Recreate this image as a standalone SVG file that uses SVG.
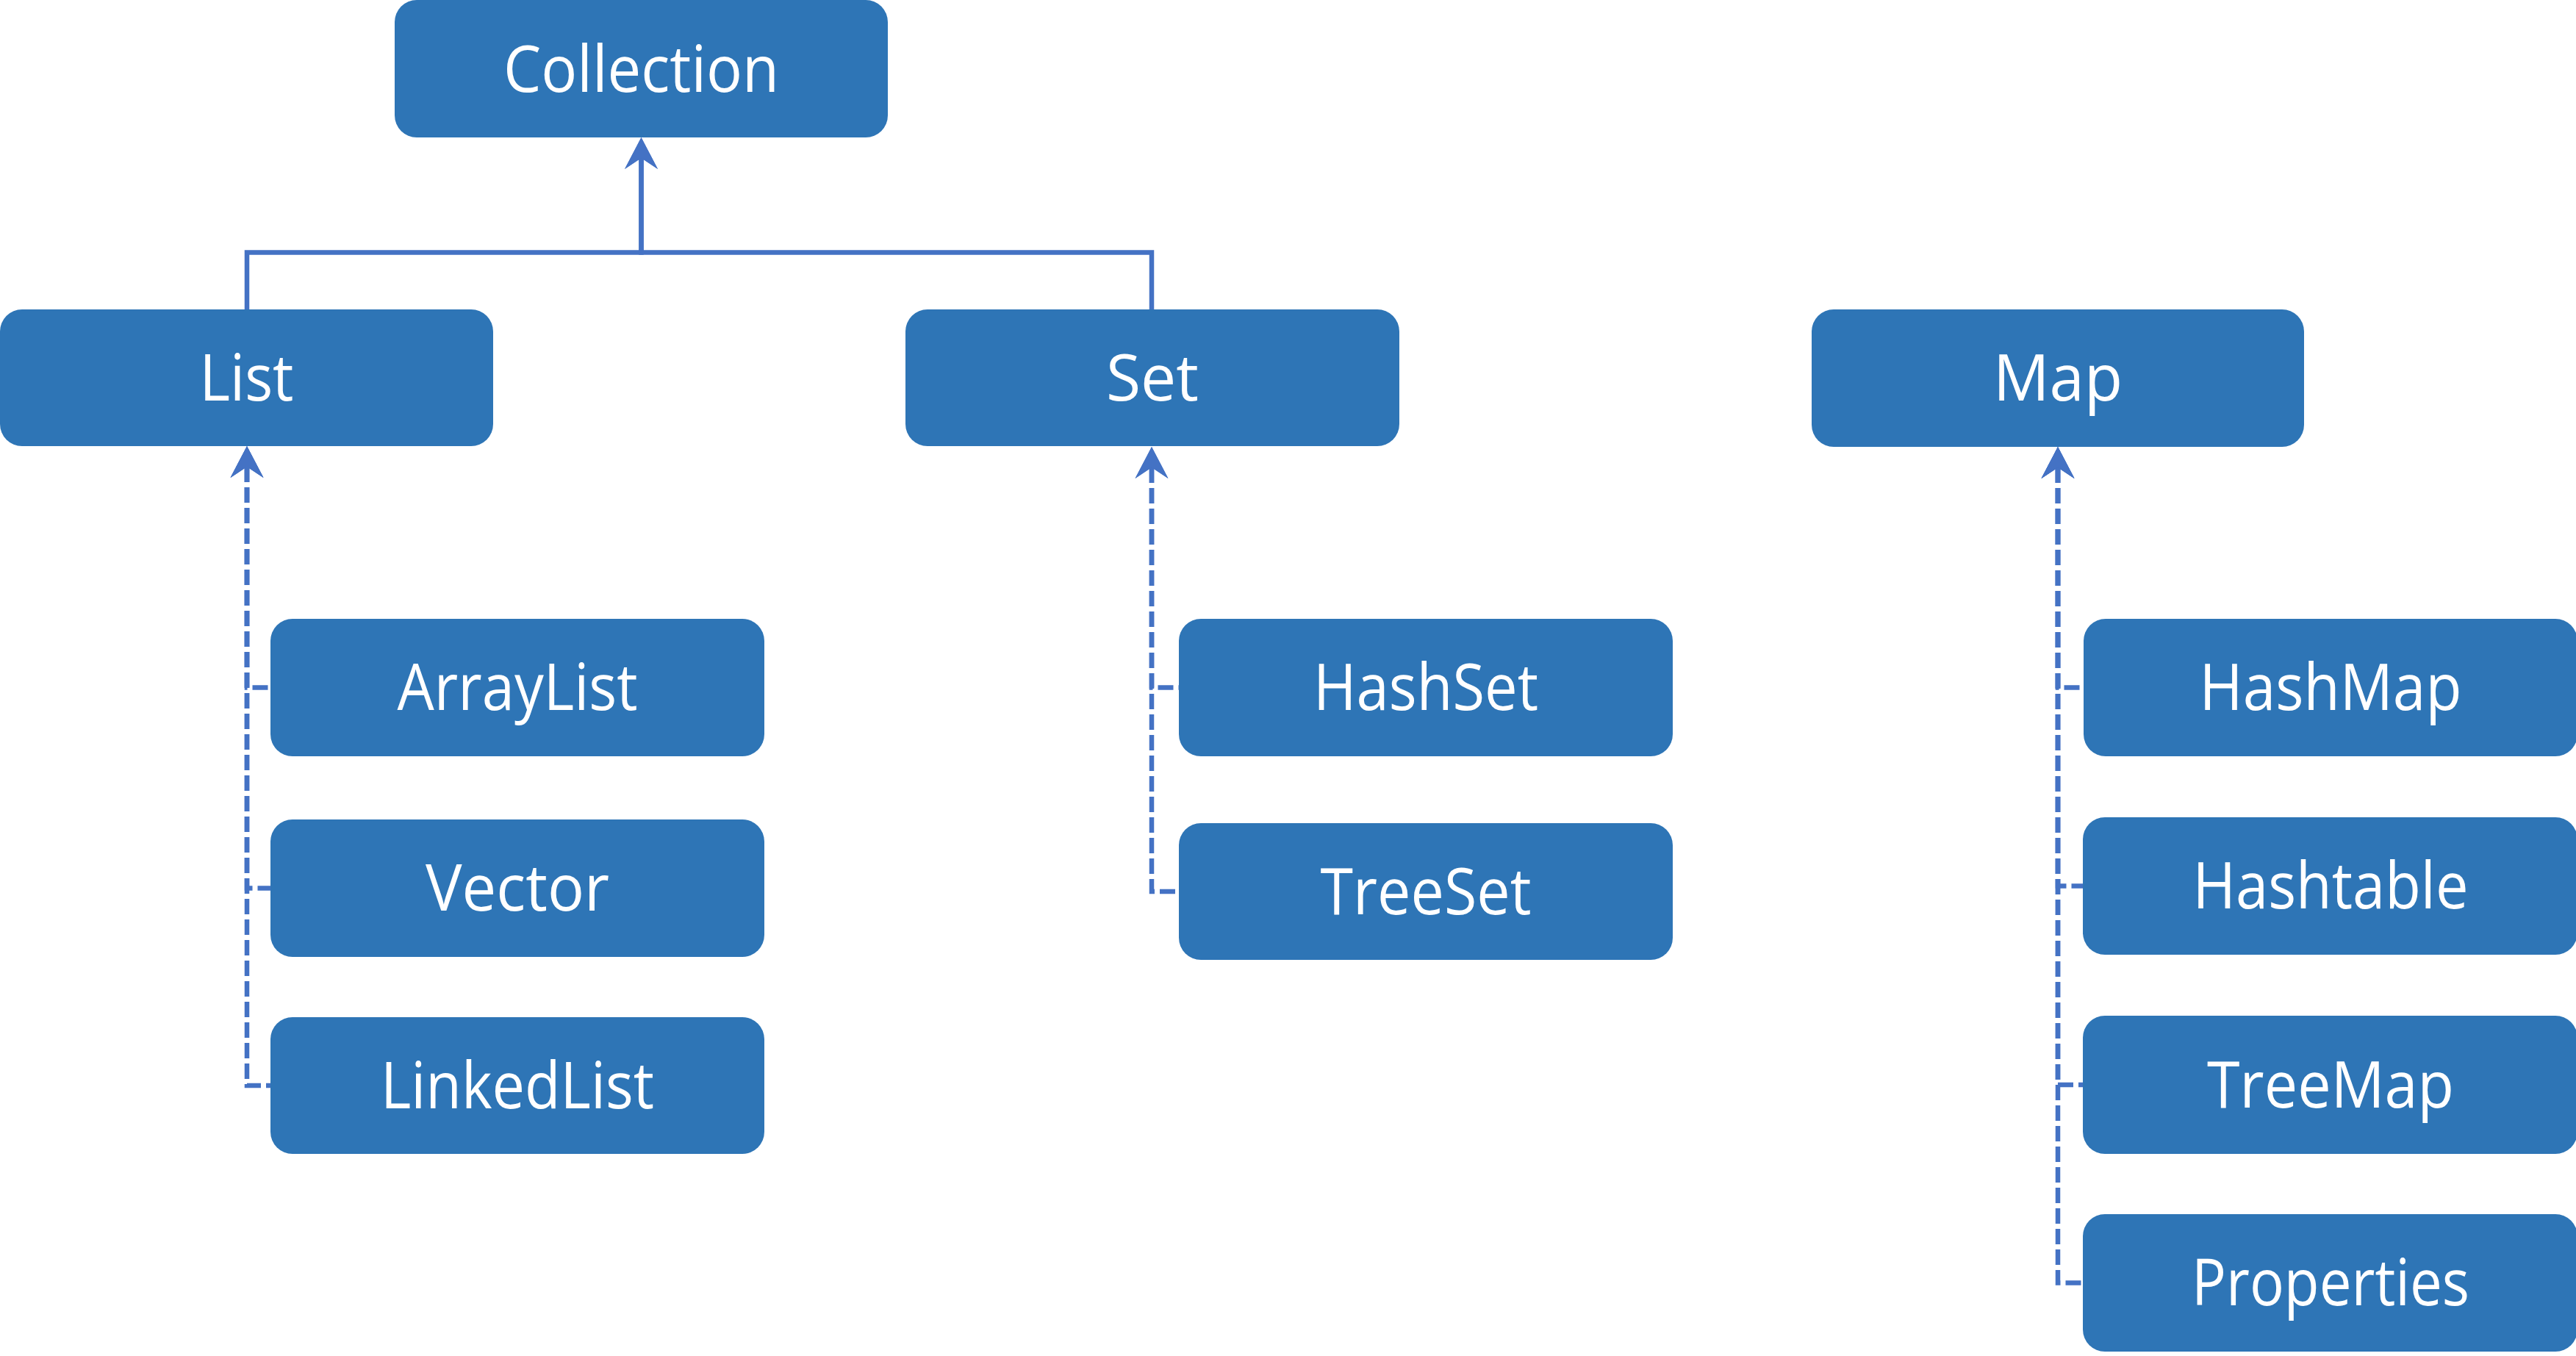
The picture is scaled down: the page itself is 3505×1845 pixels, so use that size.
<svg xmlns="http://www.w3.org/2000/svg" width="3505" height="1845" viewBox="0 0 3505 1845">
<style>
.node rect{fill:#2E75B6;}
.node text{fill:#FFFFFF;font-family:"Open Sans","Noto Sans","Liberation Sans",sans-serif;font-size:88px;text-anchor:middle;}
.conn{fill:none;stroke:#4472C4;stroke-width:6.5;}
.dash{stroke-dasharray:21 7;}
</style>
<defs>
<marker id="arr" markerUnits="userSpaceOnUse" orient="auto" overflow="visible" refX="0" refY="0" markerWidth="60" markerHeight="60">
<path d="M28,0 L-15,-22.5 L0,0 L-15,22.5 Z" fill="#4472C4"/>
</marker>
<marker id="arrS" markerUnits="userSpaceOnUse" orient="auto-start-reverse" overflow="visible" refX="0" refY="0" markerWidth="60" markerHeight="60">
<path d="M28,0 L-15,-22.5 L0,0 L-15,22.5 Z" fill="#4472C4"/>
</marker>
</defs>
<rect width="3505" height="1845" fill="#FFFFFF"/>
<g id="connectors">
<path class="conn" d="M336,421 V343.5 H872.5 V215" marker-end="url(#arr)"/>
<path class="conn" d="M1567,421 V343.5 H872.5 V215" marker-end="url(#arr)"/>
<path class="conn dash" d="M336,635 V935.5 H368" marker-start="url(#arrS)"/>
<path class="conn dash" d="M336,635 V1208.5 H368" marker-start="url(#arrS)"/>
<path class="conn dash" d="M336,635 V1477 H368" marker-start="url(#arrS)"/>
<path class="conn dash" d="M1567,636 V935.5 H1604" marker-start="url(#arrS)"/>
<path class="conn dash" d="M1567,636 V1213 H1604" marker-start="url(#arrS)"/>
<path class="conn dash" d="M2800,636 V935.5 H2835" marker-start="url(#arrS)"/>
<path class="conn dash" d="M2800,636 V1205.5 H2834" marker-start="url(#arrS)"/>
<path class="conn dash" d="M2800,636 V1476 H2834" marker-start="url(#arrS)"/>
<path class="conn dash" d="M2800,636 V1745.5 H2834" marker-start="url(#arrS)"/>
</g>
<g id="node-collection" class="node"><rect x="537" y="0" width="671" height="187" rx="30"/><text x="872.5" y="125" textLength="375" lengthAdjust="spacingAndGlyphs">Collection</text></g>
<g id="node-list" class="node"><rect x="0" y="421" width="671" height="186" rx="30"/><text x="335.5" y="545" textLength="128" lengthAdjust="spacingAndGlyphs">List</text></g>
<g id="node-set" class="node"><rect x="1232" y="421" width="672" height="186" rx="30"/><text x="1568" y="545" textLength="126" lengthAdjust="spacingAndGlyphs">Set</text></g>
<g id="node-map" class="node"><rect x="2465" y="421" width="670" height="187" rx="30"/><text x="2800" y="545" textLength="176" lengthAdjust="spacingAndGlyphs">Map</text></g>
<g id="node-arraylist" class="node"><rect x="368" y="842" width="672" height="187" rx="30"/><text x="704" y="966" textLength="327" lengthAdjust="spacingAndGlyphs">ArrayList</text></g>
<g id="node-vector" class="node"><rect x="368" y="1115" width="672" height="187" rx="30"/><text x="704" y="1239" textLength="250" lengthAdjust="spacingAndGlyphs">Vector</text></g>
<g id="node-linkedlist" class="node"><rect x="368" y="1384" width="672" height="186" rx="30"/><text x="704" y="1508" textLength="372" lengthAdjust="spacingAndGlyphs">LinkedList</text></g>
<g id="node-hashset" class="node"><rect x="1604" y="842" width="672" height="187" rx="30"/><text x="1940" y="966" textLength="306" lengthAdjust="spacingAndGlyphs">HashSet</text></g>
<g id="node-treeset" class="node"><rect x="1604" y="1120" width="672" height="186" rx="30"/><text x="1940" y="1244" textLength="287" lengthAdjust="spacingAndGlyphs">TreeSet</text></g>
<g id="node-hashmap" class="node"><rect x="2835" y="842" width="672" height="187" rx="30"/><text x="3171" y="966" textLength="357" lengthAdjust="spacingAndGlyphs">HashMap</text></g>
<g id="node-hashtable" class="node"><rect x="2834" y="1112" width="673" height="187" rx="30"/><text x="3171" y="1236" textLength="375" lengthAdjust="spacingAndGlyphs">Hashtable</text></g>
<g id="node-treemap" class="node"><rect x="2834" y="1382" width="673" height="188" rx="30"/><text x="3171" y="1507" textLength="336" lengthAdjust="spacingAndGlyphs">TreeMap</text></g>
<g id="node-properties" class="node"><rect x="2834" y="1652" width="673" height="187" rx="30"/><text x="3171" y="1776" textLength="378" lengthAdjust="spacingAndGlyphs">Properties</text></g>
</svg>
